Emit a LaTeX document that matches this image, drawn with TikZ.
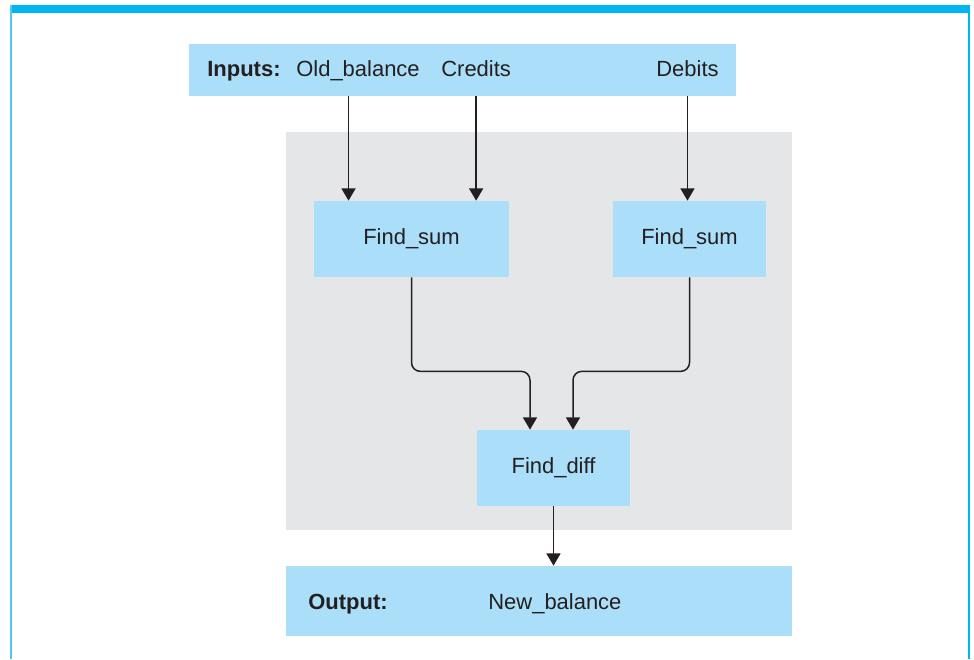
\documentclass[tikz,border=0pt]{standalone}
\usepackage{fontspec}
\setmainfont{Liberation Sans}
\usetikzlibrary{arrows.meta,positioning,calc}

\definecolor{boxblue}{RGB}{171,223,249}
\definecolor{panelgray}{RGB}{229,230,232}
\definecolor{framecyan}{RGB}{0,182,241}
\definecolor{sidecyan}{RGB}{80,200,242}
\definecolor{inkdark}{RGB}{35,31,32}

\begin{document}
\begin{tikzpicture}[
    box/.style={fill=boxblue, minimum width=3.06cm, minimum height=1.52cm, inner sep=0pt, font=\fontsize{12.5}{15}\selectfont, text=inkdark},
    band/.style={fill=boxblue, inner sep=0pt},
    txt/.style={anchor=base west, inner sep=0pt, font=\fontsize{12.5}{15}\selectfont, text=inkdark},
    arr/.style={-{Triangle[length=7pt,width=8pt]}, line width=0.85pt, draw=inkdark, rounded corners=5pt}
]
\useasboundingbox (0,0) rectangle (19.48,-13.18);
% frame
\fill[framecyan] (0.22,-0.1) rectangle (19.38,-0.26);
\draw[sidecyan, line width=0.9pt] (0.22,-0.1) -- (0.22,-13.18);
\draw[framecyan, line width=0.9pt] (19.38,-0.1) -- (19.38,-13.18);

\node[fill=panelgray, minimum width=10.12cm, minimum height=7.96cm, inner sep=0pt] (panel) at (10.78,-6.62) {};

\node[band, minimum width=10.94cm, minimum height=1.04cm] (inputs) at (9.25,-1.4) {};
\node[txt, font=\fontsize{12.5}{15}\selectfont\bfseries] (inlbl) at (4.14,-1.52) {Inputs:};
\node[txt] (oldbal) at (5.92,-1.52) {Old\_balance};
\node[txt] (credits) at (8.82,-1.52) {Credits};
\node[txt] (debits) at (13.12,-1.52) {Debits};

\node[box, minimum width=3.9cm] (sumA) at (8.23,-4.78) {Find\_sum};
\node[box] (sumB) at (13.79,-4.78) {Find\_sum};
\node[box] (diff) at (11.07,-9.36) {Find\_diff};

\node[band, minimum width=10.12cm, minimum height=1.4cm] (output) at (10.78,-12.02) {};
\node[txt, font=\fontsize{12.5}{15}\selectfont\bfseries] (outlbl) at (6.16,-12.18) {Output:};
\node[txt] (newbal) at (9.76,-12.18) {New\_balance};

\draw[arr] ([xshift=-0.19cm]oldbal.south |- inputs.south) -- ([xshift=-0.19cm]oldbal.south |- sumA.north);
\draw[arr] (credits.south |- inputs.south) -- (credits.south |- sumA.north);
\draw[arr] (debits.south |- inputs.south) -- (debits.south |- sumB.north);
\draw[arr] (sumA.south) -- ++(0,-1.88) -| ([xshift=-0.47cm]diff.north);
\draw[arr] (sumB.south) -- ++(0,-1.88) -| ([xshift=0.39cm]diff.north);
\draw[arr] (diff.south) -- (diff.south |- output.north);
\end{tikzpicture}
\end{document}
